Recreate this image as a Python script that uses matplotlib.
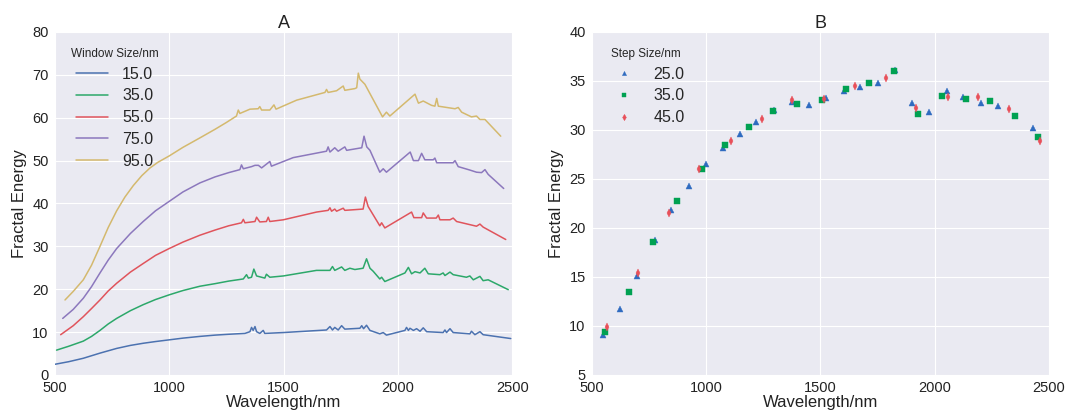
"""
Fractal energy versus wavelength: two panels.

A - curves for several window sizes,
B - scatter points for several step sizes.
"""

import matplotlib
matplotlib.use('Agg')
import matplotlib.pyplot as plt
import seaborn as sns

# Panel A: window sizes, wavelength (nm) and fractal energy per curve
window_labels = ['15.0', '35.0', '55.0', '75.0', '95.0']

wl_15 = [500, 560, 624, 697, 770, 830, 886, 940, 1000, 1060, 1134, 1200,
         1260, 1331, 1353, 1360, 1367, 1375, 1382,
         1396, 1411, 1418, 1499, 1688, 1703, 1714, 1724, 1739, 1754, 1768,
         1834, 1842, 1850, 1863, 1878, 1921, 1936, 1950, 2031, 2038, 2046,
         2053, 2068, 2082, 2097, 2111, 2126, 2198, 2206, 2213, 2228, 2242,
         2315, 2322, 2337, 2359, 2373, 2494]
fe_15 = [2.5, 3.1, 3.9, 5.1, 6.2, 6.9, 7.4, 7.8, 8.2, 8.6, 9.0, 9.3,
         9.5, 9.7, 10.1, 11.1, 10.4, 11.3, 10.1,
         9.7, 10.4, 9.7, 9.9, 10.5, 11.3, 10.5, 11.1, 10.5, 11.5, 10.7,
         10.9, 11.5, 10.8, 11.6, 10.4, 9.6, 9.9, 9.3, 10.4, 11.1, 10.4,
         10.9, 10.4, 10.8, 10.2, 11.0, 10.1, 9.9, 10.5, 9.9, 10.8, 9.9,
         9.6, 10.2, 9.4, 10.1, 9.4, 8.5]

wl_35 = [507, 560, 624, 660, 697, 733, 770, 830, 886, 940, 1000, 1060, 1134,
         1200, 1260, 1324, 1338, 1346, 1360, 1370,
         1382, 1418, 1425, 1440, 1499, 1644, 1703, 1714, 1724, 1754, 1768,
         1790, 1812, 1848, 1863, 1878, 1892, 1921, 1929, 1943, 2031, 2046,
         2060, 2075, 2097, 2118, 2133, 2184, 2198, 2206, 2228, 2242, 2300,
         2315, 2330, 2359, 2373, 2395, 2483]
fe_35 = [5.8, 6.7, 7.9, 9.0, 10.4, 11.9, 13.2, 15.0, 16.4, 17.6, 18.7, 19.7, 20.7,
         21.3, 21.9, 22.4, 23.4, 22.6, 22.8, 24.7,
         23.1, 22.6, 23.5, 22.8, 23.1, 24.4, 24.4, 25.3, 24.4, 25.2, 24.4,
         24.9, 24.6, 24.9, 27.1, 24.9, 24.2, 22.4, 22.8, 21.8, 23.8, 25.1,
         23.6, 24.1, 23.8, 24.9, 23.6, 23.4, 23.8, 23.2, 24.0, 23.4, 22.8,
         23.1, 22.2, 23.0, 22.0, 22.2, 19.9]

wl_55 = [525, 580, 624, 660, 697, 733, 770, 830, 886, 940, 1000, 1060, 1134,
         1200, 1260, 1316, 1324, 1331, 1375, 1382,
         1396, 1425, 1433, 1440, 1499, 1644, 1695, 1703, 1710, 1724, 1732,
         1761, 1768, 1848, 1858, 1870, 1921, 1929, 1943, 2060, 2070, 2104,
         2111, 2126, 2168, 2177, 2184, 2228, 2242, 2257, 2344, 2359, 2373,
         2472]
fe_55 = [9.4, 11.5, 13.6, 15.5, 17.5, 19.6, 21.4, 24.0, 26.0, 27.9, 29.5, 31.0, 32.6,
         33.8, 34.8, 35.5, 36.3, 35.5, 35.8, 36.8,
         35.7, 35.8, 36.8, 35.8, 36.2, 38.0, 38.4, 39.0, 38.2, 38.7, 38.2,
         38.9, 38.4, 38.7, 41.5, 39.3, 34.8, 35.5, 34.3, 38.0, 36.7, 36.7,
         37.8, 36.6, 36.6, 37.3, 36.2, 36.2, 36.6, 35.8, 34.7, 35.2, 34.5,
         31.6]

wl_75 = [534, 580, 624, 660, 697, 733, 770, 830, 886, 940, 1000, 1060, 1134,
         1200, 1260, 1309, 1316, 1324, 1360, 1375,
         1390, 1404, 1440, 1447, 1542, 1688, 1695, 1703, 1724, 1739, 1768,
         1776, 1842, 1852, 1864, 1878, 1921, 1936, 1950, 2054, 2068, 2090,
         2104, 2118, 2155, 2162, 2170, 2242, 2250, 2264, 2315, 2344, 2366,
         2381, 2395, 2463]
fe_75 = [13.2, 15.3, 17.9, 20.6, 23.8, 26.8, 29.5, 33.0, 35.8, 38.3, 40.5, 42.7, 44.8,
         46.2, 47.2, 47.9, 49.0, 48.1, 48.6, 48.9,
         48.9, 48.3, 49.8, 48.7, 50.7, 52.2, 53.2, 52.0, 53.0, 52.2, 53.2,
         52.4, 53.0, 55.7, 53.2, 52.4, 47.3, 48.1, 47.3, 52.0, 50.0, 50.0,
         51.7, 50.2, 50.2, 50.6, 49.5, 49.5, 50.0, 48.6, 47.8, 47.3, 47.2,
         47.9, 46.8, 43.5]

wl_95 = [544, 580, 624, 660, 697, 733, 770, 806, 843, 880, 916, 950, 1000,
         1060, 1134, 1200, 1250, 1294, 1302, 1309, 1353,
         1389, 1396, 1404, 1440, 1458, 1467, 1557, 1681, 1688, 1695, 1732,
         1761, 1768, 1812, 1820, 1827, 1834, 1856, 1933, 1950, 1965, 2075,
         2090, 2111, 2147, 2162, 2170, 2177, 2250, 2264, 2279, 2322, 2344,
         2359, 2381, 2450]
fe_95 = [17.5, 19.5, 22.2, 25.6, 30.0, 34.4, 38.3, 41.5, 44.2, 46.5, 48.3, 49.6, 51.1,
         53.1, 55.3, 57.3, 58.9, 60.4, 61.8, 61.0, 62.0,
         62.1, 62.6, 61.8, 61.8, 63.0, 62.0, 64.1, 65.9, 66.6, 65.9, 66.3,
         67.4, 66.4, 66.8, 67.0, 70.4, 69.0, 67.8, 60.2, 61.3, 60.4, 65.5,
         63.4, 63.9, 62.9, 62.7, 64.5, 62.7, 62.1, 62.4, 61.3, 60.2, 60.4,
         59.6, 59.6, 55.7]

# Panel B: step sizes
step_labels = ['25.0', '35.0', '45.0']

wl_25 = [549, 621, 698, 775, 847, 923, 997, 1072, 1147, 1220, 1296, 1375,
         1449, 1525, 1602, 1675, 1751, 1828, 1901, 1977, 2053, 2124, 2203,
         2279, 2428]
fe_25 = [9.08, 11.73, 15.13, 18.74, 21.8, 24.29, 26.48, 28.16, 29.6, 30.78,
         32.04, 32.9, 32.55, 33.27, 33.98, 34.4, 34.76, 36.09, 32.72, 31.8,
         33.98, 33.4, 32.72, 32.42, 30.17]

wl_s35 = [559, 661, 768, 874, 980, 1082, 1187, 1293, 1397, 1505, 1613, 1714,
          1821, 1926, 2034, 2138, 2243, 2350, 2453]
fe_s35 = [9.42, 13.47, 18.6, 22.76, 26.07, 28.44, 30.27, 31.9, 32.67, 33.06,
          34.15, 34.8, 36.0, 31.6, 33.43, 33.2, 32.96, 31.43, 29.25]

wl_45 = [567, 700, 836, 969, 1107, 1242, 1375, 1515, 1650, 1786, 1919, 2056,
         2191, 2327, 2461]
fe_45 = [9.93, 15.44, 21.5, 25.97, 28.91, 31.15, 33.1, 33.2, 34.5, 35.27,
         32.24, 33.4, 33.4, 32.1, 28.9]

# Цвета
LINE_COLORS = ['#4C72B0', '#2CA86A', '#E0545C', '#8C78BD', '#D4B96E']
POINT_COLORS = ['#2F6BC0', '#00A152', '#E8505A']

sns.set_style('darkgrid')
plt.rcParams['font.family'] = ['Liberation Sans', 'DejaVu Sans']
plt.rcParams['axes.facecolor'] = '#EAEAF2'


def style_axis(ax, ylim, yticks, title):
    """Общие настройки осей для обеих панелей."""
    ax.set_xlim(500, 2500)
    ax.set_xticks([500, 1000, 1500, 2000, 2500])
    ax.set_ylim(*ylim)
    ax.set_yticks(yticks)
    ax.tick_params(axis='both', labelsize=10.5, pad=1, colors='#222222')
    ax.set_xlabel('Wavelength/nm', fontsize=12, labelpad=0, color='#222222')
    ax.set_ylabel('Fractal Energy', fontsize=12, labelpad=4, color='#222222')
    ax.set_title(title, fontsize=13, pad=3, color='#222222')
    for spine in ax.spines.values():
        spine.set_visible(False)


fig = plt.figure(figsize=(10.67, 4.15), dpi=100)
ax_a = fig.add_axes([0.0515, 0.0964, 0.4285, 0.8265])
ax_b = fig.add_axes([0.5548, 0.0964, 0.4283, 0.8265])

# Панель A: линии
series_a = [(wl_15, fe_15), (wl_35, fe_35), (wl_55, fe_55),
            (wl_75, fe_75), (wl_95, fe_95)]
for (wl, fe), label, color in zip(series_a, window_labels, LINE_COLORS):
    ax_a.plot(wl, fe, color=color, linewidth=1.1, label=label)

style_axis(ax_a, (0, 80), range(0, 81, 10), 'A')
ax_a.legend(title='Window Size/nm', loc='upper left', frameon=False,
            fontsize=11.5, title_fontsize=8.5, handlelength=2.0,
            handletextpad=0.85, labelspacing=0.42, borderaxespad=0.4,
            borderpad=0.6)

# Панель B: точки
series_b = [(wl_25, fe_25, '^', 3.8), (wl_s35, fe_s35, 's', 4.0),
            (wl_45, fe_45, 'd', 4.0)]
for (wl, fe, marker, size), label, color in zip(series_b, step_labels, POINT_COLORS):
    ax_b.plot(wl, fe, linestyle='none', marker=marker, markersize=size,
              color=color, markeredgewidth=0.3, label=label)

style_axis(ax_b, (5, 40), range(5, 41, 5), 'B')
ax_b.legend(title='Step Size/nm', loc='upper left', frameon=False,
            fontsize=11.5, title_fontsize=8.5, numpoints=1, markerscale=0.8,
            handlelength=2.0, handletextpad=0.85, labelspacing=0.42,
            borderaxespad=0.4, borderpad=0.6)

fig.savefig('out.png', dpi=100)
plt.close(fig)
